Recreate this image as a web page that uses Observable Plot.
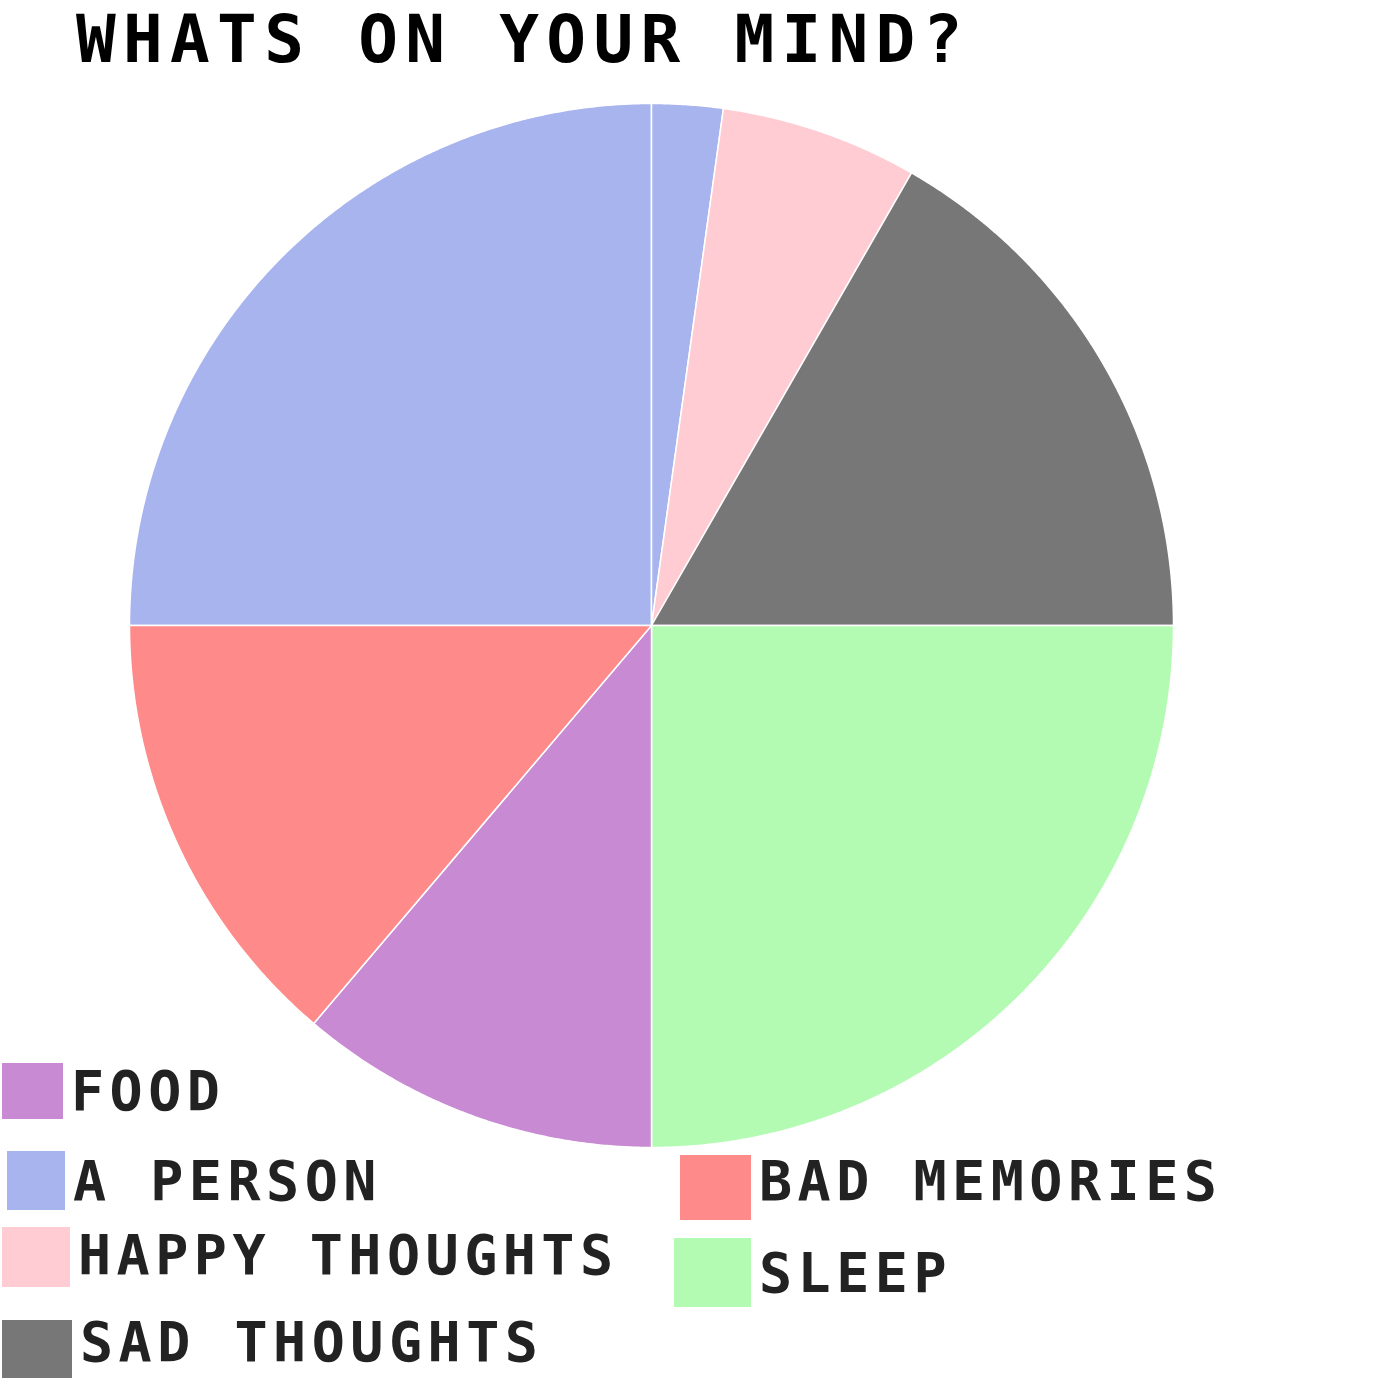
<!DOCTYPE html>
<html>
<head>
<meta charset="utf-8">
<script src="https://cdn.jsdelivr.net/npm/d3@7"></script>
<script src="https://cdn.jsdelivr.net/npm/@observablehq/plot@0.6"></script>
<style>
  body { margin: 0; background: #fff; width: 1400px; height: 1400px; position: relative; overflow: hidden; }
  #title { position: absolute; left: 76px; top: 0px; font-family: "DejaVu Sans Mono", monospace; font-weight: bold;
    font-size: 66px; letter-spacing: 7.3px; color: #000; line-height: 80px; }
  #chart { position: absolute; left: 0; top: 0; }
  .item { position: absolute; display: flex; align-items: center; font-family: "DejaVu Sans Mono", monospace; font-weight: bold;
    font-size: 55px; letter-spacing: 5.5px; color: #222; }
  .swatch { display: inline-block; margin-right: 8px; }
</style>
</head>
<body>
<div id="title">WHATS ON YOUR MIND?</div>
<div id="chart"></div>
<div id="legend"></div>
<script>
// slices in clockwise order, starting at 9 o'clock (A PERSON is drawn in two parts, as in the original)
const labels = ["A PERSON", "A PERSON", "HAPPY THOUGHTS", "SAD THOUGHTS", "SLEEP", "FOOD", "BAD MEMORIES"];
const values = [25, 2.2, 6.1, 16.7, 25, 11.2, 13.8];
const categories = ["A PERSON", "HAPPY THOUGHTS", "SAD THOUGHTS", "SLEEP", "FOOD", "BAD MEMORIES"];
const colors = ["#a8b4ee", "#ffccd3", "#777777", "#b3fbb3", "#c78ad3", "#ff8a8a"];
const legendOrder = ["FOOD", "A PERSON", "HAPPY THOUGHTS", "SAD THOUGHTS", "BAD MEMORIES", "SLEEP"];

const startAngle = 1.5 * Math.PI;
const arcs = d3.pie().sort(null).startAngle(startAngle).endAngle(startAngle + 2 * Math.PI)(values);

// outline points for each slice (center + arc), in unit coordinates
const pts = [];
arcs.forEach((a, i) => {
  pts.push({ part: i, label: labels[i], x: 0, y: 0 });
  const n = Math.max(2, Math.ceil((a.endAngle - a.startAngle) / 0.005));
  for (let k = 0; k <= n; k++) {
    const t = a.startAngle + (a.endAngle - a.startAngle) * k / n;
    pts.push({ part: i, label: labels[i], x: Math.sin(t), y: Math.cos(t) });
  }
});

const cx = 651, cy = 625, r = 522;
const plot = Plot.plot({
  width: 1400,
  height: 1150,
  margin: 0,
  x: { domain: [-1, 1], range: [cx - r, cx + r], axis: null },
  y: { domain: [-1, 1], range: [cy + r, cy - r], axis: null },
  color: { domain: categories, range: colors },
  marks: [
    Plot.line(pts, {
      x: "x", y: "y", z: "part", fill: "label",
      stroke: "white", strokeWidth: 1.5, curve: "linear-closed"
    })
  ]
});
document.querySelector("#chart").append(plot);

// legend
const legendPos = {
  "FOOD":           { left: 2,   top: 1063, w: 61, h: 56, dy: 0 },
  "A PERSON":       { left: 7,   top: 1151, w: 58, h: 59, dy: 0 },
  "HAPPY THOUGHTS": { left: 2,   top: 1227, w: 68, h: 60, dy: -2 },
  "SAD THOUGHTS":   { left: 2,   top: 1320, w: 70, h: 58, dy: -7 },
  "BAD MEMORIES":   { left: 680, top: 1155, w: 71, h: 65, dy: -7 },
  "SLEEP":          { left: 674, top: 1238, w: 77, h: 69, dy: 0 }
};
let legendHtml = "";
for (const l of legendOrder) {
  const p = legendPos[l];
  const c = colors[categories.indexOf(l)];
  legendHtml += `<div class="item" style="left:${p.left}px;top:${p.top}px;height:${p.h}px"><span class="swatch" style="background:${c};width:${p.w}px;height:${p.h}px"></span><span style="position:relative;top:${p.dy}px">${l}</span></div>`;
}
document.querySelector("#legend").innerHTML = legendHtml;
</script>
</body>
</html>
